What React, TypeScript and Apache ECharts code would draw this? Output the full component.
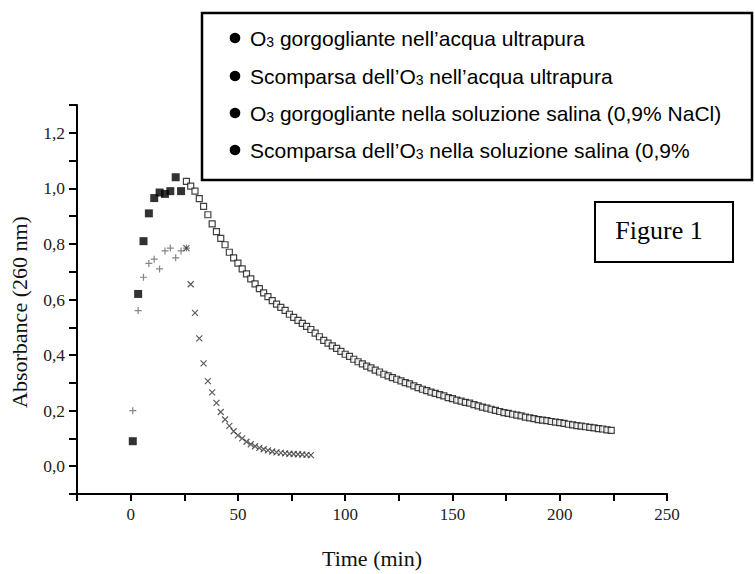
import React, { useEffect, useRef } from "react";
import * as echarts from "echarts";

const SERIF = "'Liberation Serif', 'Times New Roman', serif";
const SANS = "'Liberation Sans', Arial, sans-serif";

// O3 gorgogliante nell'acqua ultrapura (filled squares)
const timeFilled = [1, 3.5, 6, 8.5, 11, 13.5, 16, 18.5, 21, 23.5];
const absFilled = [0.09, 0.62, 0.81, 0.91, 0.965, 0.985, 0.98, 0.99, 1.04, 0.99];

// Scomparsa dell'O3 nell'acqua ultrapura (open squares)
const timeOpen = [
  26, 28, 30, 32, 34, 36, 38, 40, 42, 44, 46, 48, 50, 52, 54, 56, 58, 60, 62, 64,
  66, 68, 70, 72, 74, 76, 78, 80, 82, 84, 86, 88, 90, 92, 94, 96, 98, 100, 102, 104,
  106, 108, 110, 112, 114, 116, 118, 120, 122, 124, 126, 128, 130, 132, 134, 136, 138, 140, 142, 144,
  146, 148, 150, 152, 154, 156, 158, 160, 162, 164, 166, 168, 170, 172, 174, 176, 178, 180, 182, 184,
  186, 188, 190, 192, 194, 196, 198, 200, 202, 204, 206, 208, 210, 212, 214, 216, 218, 220, 222, 224,
];
const absOpen = [
  1.025, 1.008, 0.99, 0.963, 0.935, 0.905, 0.872, 0.844, 0.82, 0.797, 0.77, 0.75, 0.731, 0.71, 0.692, 0.674, 0.656, 0.639, 0.624, 0.61,
  0.596, 0.583, 0.572, 0.561, 0.547, 0.536, 0.525, 0.514, 0.503, 0.492, 0.479, 0.466, 0.453, 0.443, 0.433, 0.424, 0.413, 0.403, 0.395, 0.385,
  0.376, 0.368, 0.36, 0.354, 0.346, 0.339, 0.331, 0.325, 0.319, 0.313, 0.307, 0.301, 0.296, 0.289, 0.283, 0.277, 0.272, 0.267, 0.262, 0.258,
  0.253, 0.247, 0.243, 0.238, 0.234, 0.23, 0.227, 0.222, 0.217, 0.213, 0.209, 0.205, 0.201, 0.197, 0.193, 0.19, 0.187, 0.184, 0.181, 0.177,
  0.174, 0.171, 0.168, 0.166, 0.164, 0.161, 0.159, 0.157, 0.154, 0.151, 0.149, 0.146, 0.144, 0.142, 0.14, 0.138, 0.135, 0.134, 0.131, 0.129,
];

// O3 gorgogliante nella soluzione salina (plus)
const timePlus = [1, 3.5, 6, 8.5, 11, 13.5, 16, 18.5, 21, 23.5, 26];
const absPlus = [0.2, 0.56, 0.68, 0.73, 0.745, 0.71, 0.775, 0.785, 0.75, 0.775, 0.785];

// Scomparsa dell'O3 nella soluzione salina (crosses)
const timeCross = [
  26, 28, 30, 32, 34, 36, 38, 40, 42, 44, 46, 48, 50, 52, 54,
  56, 58, 60, 62, 64, 66, 68, 70, 72, 74, 76, 78, 80, 82, 84,
];
const absCross = [
  0.785, 0.655, 0.552, 0.46, 0.37, 0.306, 0.266, 0.228, 0.195, 0.168, 0.145, 0.126, 0.111, 0.1, 0.088,
  0.079, 0.072, 0.066, 0.061, 0.057, 0.053, 0.05, 0.048, 0.046, 0.045, 0.044, 0.043, 0.042, 0.041, 0.04,
];

const legendLines = [
  "O{s|3} gorgogliante nell\u2019acqua ultrapura",
  "Scomparsa dell\u2019O{s|3} nell\u2019acqua ultrapura",
  "O{s|3} gorgogliante nella soluzione salina (0,9% NaCl)",
  "Scomparsa dell\u2019O{s|3} nella soluzione salina (0,9%",
];

const zip = (xs: number[], ys: number[]) => xs.map((x, i) => [x, ys[i]]);

export default function App() {
  const ref = useRef<HTMLDivElement>(null);
  useEffect(() => {
    const chart = echarts.init(ref.current!, null, { renderer: "svg" });
    const rowYs = [38, 76, 113, 150];
    const graphic: any[] = [
      {
        type: "rect",
        z: 100,
        shape: { x: 202, y: 13, width: 550, height: 167 },
        style: { fill: "#fff", stroke: "#000", lineWidth: 2.5 },
      },
      ...rowYs.map((y) => ({
        type: "circle",
        z: 101,
        shape: { cx: 235, cy: y, r: 5.3 },
        style: { fill: "#000" },
      })),
      ...rowYs.map((y, i) => ({
        type: "text",
        z: 101,
        x: 250,
        y,
        style: {
          text: legendLines[i],
          fill: "#000",
          fontFamily: SANS,
          fontSize: 21,
          verticalAlign: "middle",
          rich: {
            s: { fontFamily: SANS, fontSize: 14, fill: "#000", verticalAlign: "bottom", lineHeight: 10 },
          },
        },
      })),
      {
        type: "rect",
        z: 100,
        shape: { x: 595, y: 202, width: 138, height: 60 },
        style: { fill: "#fff", stroke: "#000", lineWidth: 2 },
      },
      {
        type: "text",
        z: 101,
        x: 659,
        y: 230,
        style: {
          text: "Figure 1",
          fill: "#000",
          fontFamily: SERIF,
          fontSize: 26,
          align: "center",
          verticalAlign: "middle",
        },
      },
    ];

    const option: any = {
      animation: false,
      backgroundColor: "#fff",
      grid: { left: 77, right: 88, top: 105, bottom: 62, containLabel: false },
      xAxis: {
        type: "value",
        min: -25,
        max: 250,
        interval: 25,
        name: "Time (min)",
        nameLocation: "middle",
        nameGap: 53,
        nameTextStyle: { fontFamily: SERIF, fontSize: 22, color: "#111" },
        axisLine: { onZero: false, lineStyle: { color: "#000", width: 2 } },
        axisTick: { show: true, inside: false, length: 7, lineStyle: { color: "#000", width: 2 } },
        axisLabel: {
          formatter: (v: number) => (Math.round(v) % 50 === 0 ? String(Math.round(v)) : ""),
          fontFamily: SERIF,
          fontSize: 17,
          color: "#222",
          margin: 12,
        },
        splitLine: { show: false },
      },
      yAxis: {
        type: "value",
        min: -0.1,
        max: 1.3,
        interval: 0.1,
        name: "Absorbance (260 nm)",
        nameLocation: "middle",
        nameGap: 47,
        nameTextStyle: { fontFamily: SERIF, fontSize: 22, color: "#111", padding: [0, 25, 0, 0] },
        axisLine: { onZero: false, lineStyle: { color: "#000", width: 2 } },
        axisTick: { show: true, inside: false, length: 8, lineStyle: { color: "#000", width: 2 } },
        axisLabel: {
          formatter: (v: number) => {
            const k = Math.round(v * 10);
            return k >= 0 && k % 2 === 0 ? (k / 10).toFixed(1).replace(".", ",") : "";
          },
          fontFamily: SERIF,
          fontSize: 17.5,
          color: "#222",
          margin: 12,
        },
        splitLine: { show: false },
      },
      series: [
        {
          name: "Scomparsa dell\u2019O3 nell\u2019acqua ultrapura",
          type: "scatter",
          data: zip(timeOpen, absOpen),
          symbol: "rect",
          symbolSize: 6,
          itemStyle: { color: "#fff", borderColor: "#111", borderWidth: 1.2 },
          emphasis: { disabled: true },
        },
        {
          name: "O3 gorgogliante nell\u2019acqua ultrapura",
          type: "scatter",
          data: zip(timeFilled, absFilled),
          symbol: "rect",
          symbolSize: 8,
          itemStyle: { color: "#000" },
          emphasis: { disabled: true },
        },
        {
          name: "O3 gorgogliante nella soluzione salina (0,9% NaCl)",
          type: "scatter",
          data: zip(timePlus, absPlus),
          symbol: "path://M5 0L5 10M0 5L10 5",
          symbolSize: 7,
          itemStyle: { color: "transparent", borderColor: "#666", borderWidth: 1.2 },
          emphasis: { disabled: true },
        },
        {
          name: "Scomparsa dell\u2019O3 nella soluzione salina (0,9%",
          type: "scatter",
          data: zip(timeCross, absCross),
          symbol: "path://M0 0L10 10M10 0L0 10",
          symbolSize: 6,
          itemStyle: { color: "transparent", borderColor: "#333", borderWidth: 1.2 },
          emphasis: { disabled: true },
        },
      ],
      graphic,
    };
    chart.setOption(option);
    return () => chart.dispose();
  }, []);
  return (
    <div
      ref={ref}
      style={{ position: "fixed", left: 0, top: 0, width: 755, height: 574, background: "#fff" }}
    />
  );
}
